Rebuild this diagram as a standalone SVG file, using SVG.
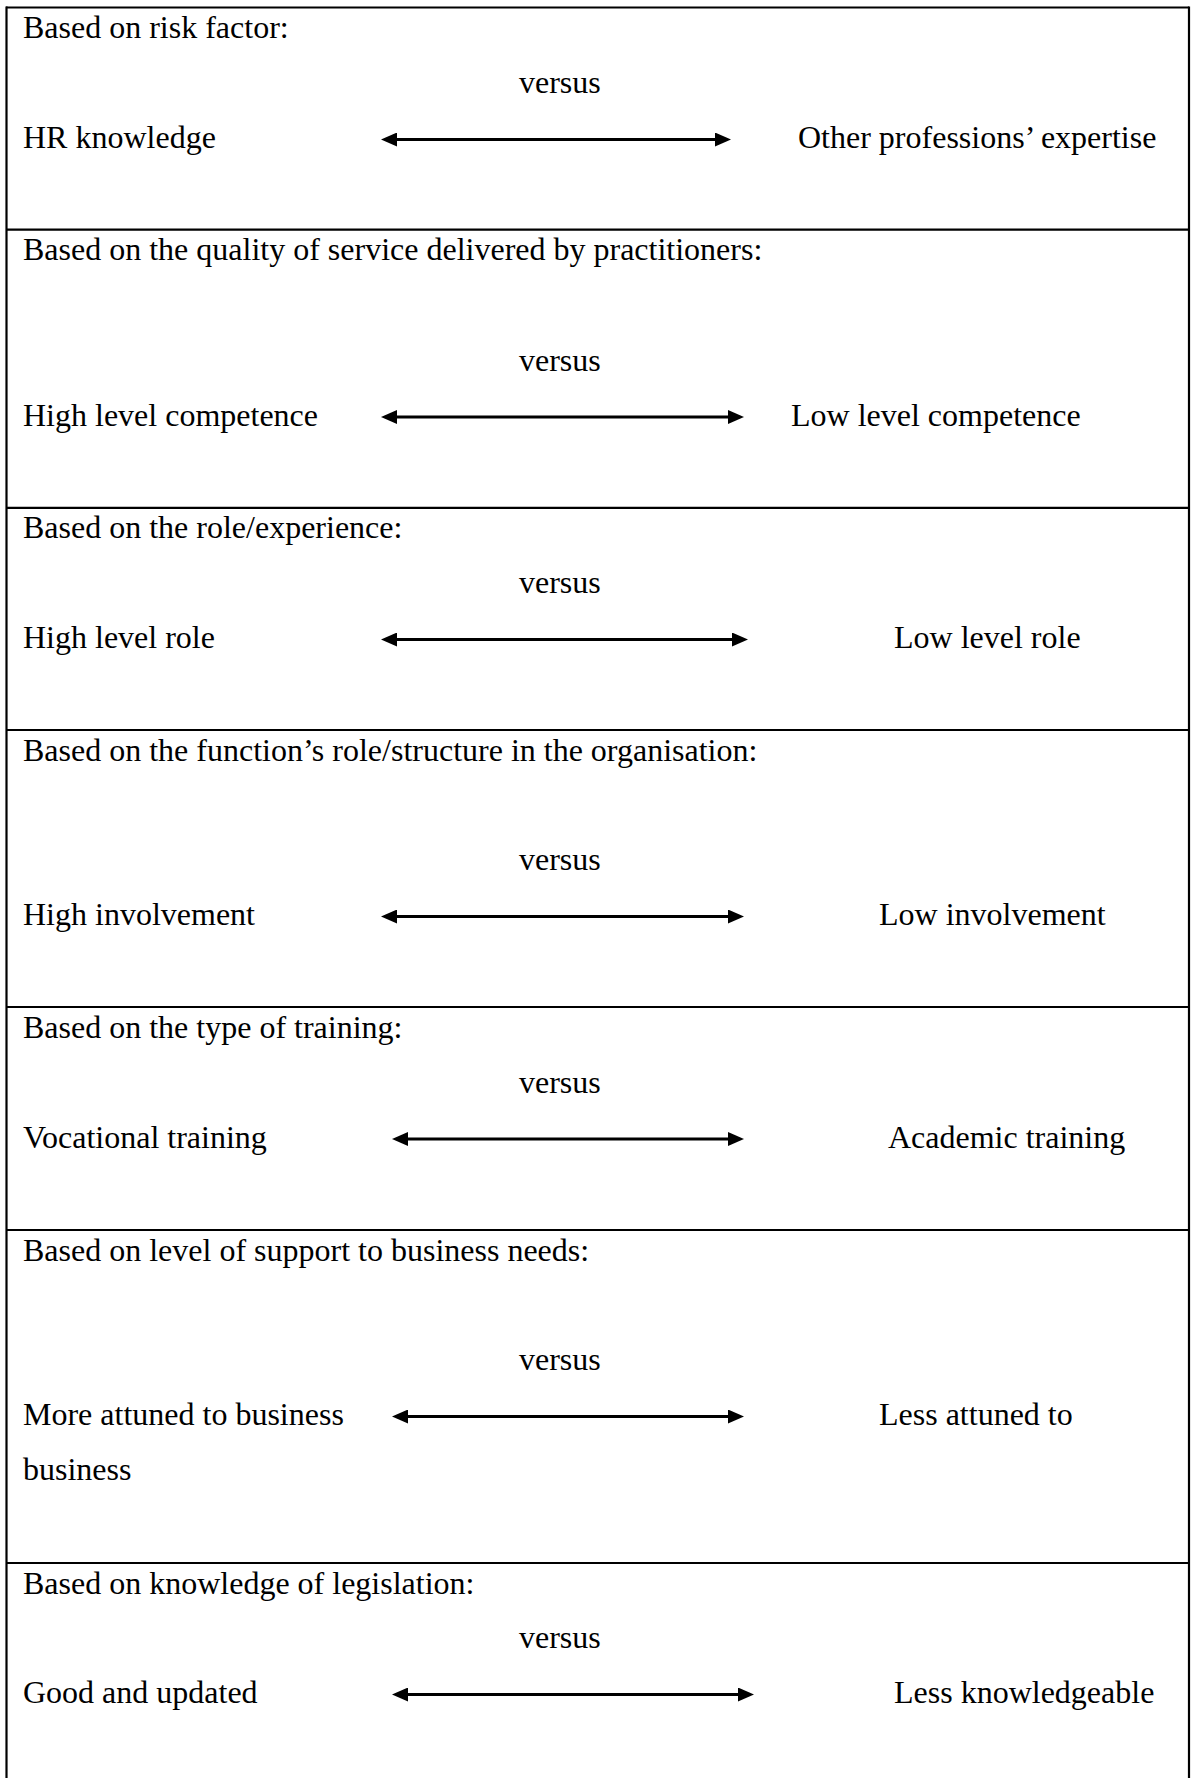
<svg xmlns="http://www.w3.org/2000/svg" width="1195" height="1778" viewBox="0 0 1195 1778">
  <style>
    .t { font-family: "Liberation Serif", "Times New Roman", serif; font-size: 32px; fill: #000; }
    .rule { stroke: #000; stroke-width: 2.2; fill: none; }
    .arrow { stroke: #000; stroke-width: 3; fill: none; marker-start: url(#head); marker-end: url(#head); }
  </style>
  <defs>
    <marker id="head" viewBox="0 0 16 14" refX="2" refY="7" markerWidth="16" markerHeight="14" markerUnits="userSpaceOnUse" orient="auto-start-reverse">
      <path d="M0,0 L16,7 L0,14 z" fill="#000"/>
    </marker>
  </defs>
  <rect width="1195" height="1778" fill="#fff"/>

  <!-- table frame: outer edges and row dividers -->
  <g id="frame" class="rule">
    <line x1="6" y1="7.5" x2="1189" y2="7.5"/>
    <line x1="6.5" y1="6.5" x2="6.5" y2="1778"/>
    <line x1="1189" y1="6.5" x2="1189" y2="1778"/>
    <line x1="6" y1="229.6" x2="1189" y2="229.6"/>
    <line x1="6" y1="507.8" x2="1189" y2="507.8"/>
    <line x1="6" y1="730" x2="1189" y2="730"/>
    <line x1="6" y1="1007" x2="1189" y2="1007"/>
    <line x1="6" y1="1230" x2="1189" y2="1230"/>
    <line x1="6" y1="1563" x2="1189" y2="1563"/>
  </g>

  <g id="row-risk">
    <text class="t" x="23" y="38">Based on risk factor:</text>
    <text class="t" x="519" y="93">versus</text>
    <text class="t" x="23" y="148">HR knowledge</text>
    <text class="t" x="798" y="148">Other professions’ expertise</text>
  </g>

  <g id="row-quality">
    <text class="t" x="23" y="260">Based on the quality of service delivered by practitioners:</text>
    <text class="t" x="519" y="370.5">versus</text>
    <text class="t" x="23" y="425.5">High level competence</text>
    <text class="t" x="791" y="425.5">Low level competence</text>
  </g>

  <g id="row-role">
    <text class="t" x="23" y="538">Based on the role/experience:</text>
    <text class="t" x="519" y="593">versus</text>
    <text class="t" x="23" y="648">High level role</text>
    <text class="t" x="894" y="648">Low level role</text>
  </g>

  <g id="row-function">
    <text class="t" x="23" y="760.5">Based on the function’s role/structure in the organisation:</text>
    <text class="t" x="519" y="870">versus</text>
    <text class="t" x="23" y="925">High involvement</text>
    <text class="t" x="879" y="925">Low involvement</text>
  </g>

  <g id="row-training">
    <text class="t" x="23" y="1037.5">Based on the type of training:</text>
    <text class="t" x="519" y="1092.5">versus</text>
    <text class="t" x="23" y="1147.5">Vocational training</text>
    <text class="t" x="888" y="1147.5">Academic training</text>
  </g>

  <g id="row-business">
    <text class="t" x="23" y="1260.5">Based on level of support to business needs:</text>
    <text class="t" x="519" y="1370">versus</text>
    <text class="t" x="23" y="1425">More attuned to business</text>
    <text class="t" x="23" y="1480">business</text>
    <text class="t" x="879" y="1425">Less attuned to</text>
  </g>

  <g id="row-legislation">
    <text class="t" x="23" y="1593.5">Based on knowledge of legislation:</text>
    <text class="t" x="519" y="1648">versus</text>
    <text class="t" x="23" y="1703">Good and updated</text>
    <text class="t" x="894" y="1703">Less knowledgeable</text>
  </g>

  <!-- double-headed arrows between the two poles of each row -->
  <g id="connectors">
    <line class="arrow" x1="395" y1="139.5" x2="717" y2="139.5"/>
    <line class="arrow" x1="395" y1="417" x2="730" y2="417"/>
    <line class="arrow" x1="395" y1="639.5" x2="734" y2="639.5"/>
    <line class="arrow" x1="395" y1="916.5" x2="730" y2="916.5"/>
    <line class="arrow" x1="406" y1="1139" x2="730" y2="1139"/>
    <line class="arrow" x1="406" y1="1416.5" x2="730" y2="1416.5"/>
    <line class="arrow" x1="406" y1="1694.5" x2="740" y2="1694.5"/>
  </g>
</svg>
